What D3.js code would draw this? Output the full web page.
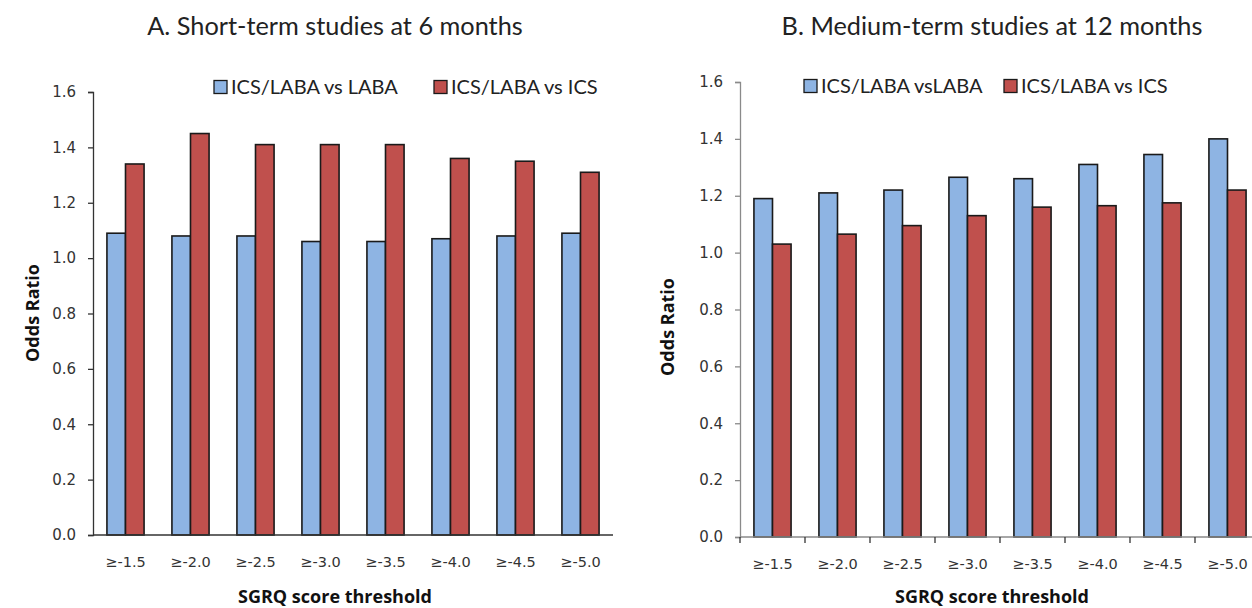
<!DOCTYPE html>
<html>
<head>
<meta charset="utf-8">
<script src="https://cdn.jsdelivr.net/npm/d3@7"></script>
<style>
  body { margin: 0; background: #fff; }
  svg { display: block; }
  .tick-label { font-family: "DejaVu Sans", Verdana, sans-serif; fill: #333; }
  .title { font-family: Lato, "Open Sans", sans-serif; font-size: 25.3px; fill: #222; }
  .legend-text { font-family: Lato, "Open Sans", sans-serif; font-size: 20px; fill: #222; }
  .axis-title { font-family: "Open Sans", Lato, sans-serif; font-size: 18px; font-weight: bold; fill: #111; }
</style>
</head>
<body>
<div id="chart"></div>
<script>
// 数据
var categories = ['≥-1.5', '≥-2.0', '≥-2.5', '≥-3.0', '≥-3.5', '≥-4.0', '≥-4.5', '≥-5.0'];
var yTicks = [0, 0.2, 0.4, 0.6, 0.8, 1.0, 1.2, 1.4, 1.6];

var shortVsLaba = [1.09, 1.08, 1.08, 1.06, 1.06, 1.07, 1.08, 1.09];
var shortVsIcs = [1.34, 1.45, 1.41, 1.41, 1.41, 1.36, 1.35, 1.31];

var mediumVsLaba = [1.19, 1.21, 1.22, 1.265, 1.26, 1.31, 1.345, 1.40];
var mediumVsIcs = [1.03, 1.065, 1.095, 1.13, 1.16, 1.165, 1.175, 1.22];

var colors = ['#8EB4E3', '#C0504D'];

var W = 1252, H = 608;
var svg = d3.select('#chart').append('svg')
    .attr('width', W)
    .attr('height', H);

function renderPanel (opts) {
    var g = svg.append('g');

    var x = d3.scaleBand()
        .domain(categories)
        .range([opts.left, opts.left + opts.band * categories.length])
        .paddingInner(0)
        .paddingOuter(0);

    var y = d3.scaleLinear()
        .domain([0, 1.6])
        .range([opts.bottom, opts.top]);

    var groupW = opts.band / 1.75;
    var x1 = d3.scaleBand()
        .domain([0, 1])
        .range([0, groupW]);

    // 柱子
    var series = [opts.s1, opts.s2];
    series.forEach(function (vals, si) {
        g.selectAll('rect.s' + si)
            .data(vals)
            .enter()
            .append('rect')
            .attr('class', 's' + si)
            .attr('x', function (d, i) {
                return x(categories[i]) + (opts.band - groupW) / 2 + x1(si);
            })
            .attr('y', function (d) { return y(d); })
            .attr('width', x1.bandwidth())
            .attr('height', function (d) { return opts.bottom - y(d); })
            .attr('fill', colors[si])
            .attr('stroke', '#1a1a1a')
            .attr('stroke-width', 1.6);
    });

    // y轴
    var yAxis = d3.axisLeft(y)
        .tickValues(yTicks)
        .tickSize(5)
        .tickFormat(d3.format('.1f'));
    var yg = g.append('g')
        .attr('transform', 'translate(' + opts.left + ',0)')
        .call(yAxis);
    yg.attr('font-size', null).attr('font-family', null);
    yg.select('.domain').attr('stroke', opts.axisColor).attr('stroke-width', 1.3);
    yg.selectAll('.tick line').attr('stroke', opts.axisColor).attr('stroke-width', 1.3);
    yg.selectAll('.tick text')
        .attr('class', 'tick-label')
        .style('font-size', '15px')
        .attr('x', -17);

    // x轴
    var xAxis = d3.axisBottom(x)
        .tickSize(0)
        .tickPadding(opts.xLabelPad);
    var xg = g.append('g')
        .attr('transform', 'translate(0,' + opts.bottom + ')')
        .call(xAxis);
    xg.attr('font-size', null).attr('font-family', null);
    xg.select('.domain')
        .attr('d', 'M' + opts.left + ',0H' + opts.xEnd)
        .attr('stroke', opts.axisColor)
        .attr('stroke-width', 1.3);
    xg.selectAll('.tick text')
        .attr('class', 'tick-label')
        .style('font-size', '14.5px');

    if (opts.xTicks) {
        xg.selectAll('line.sep')
            .data(categories)
            .enter()
            .append('line')
            .attr('class', 'sep')
            .attr('x1', function (d) { return x(d); })
            .attr('x2', function (d) { return x(d); })
            .attr('y1', 0)
            .attr('y2', 6)
            .attr('stroke', '#333')
            .attr('stroke-width', 1.3);
    }

    // 标题
    g.append('text')
        .attr('class', 'title')
        .attr('x', opts.titleX)
        .attr('y', 35)
        .attr('text-anchor', 'middle')
        .text(opts.title);

    g.append('text')
        .attr('class', 'axis-title')
        .attr('transform', 'translate(' + opts.yTitleX + ',' + opts.yTitleY + ') rotate(-90)')
        .attr('text-anchor', 'middle')
        .text('Odds Ratio');

    g.append('text')
        .attr('class', 'axis-title')
        .attr('x', opts.titleX)
        .attr('y', 603)
        .attr('text-anchor', 'middle')
        .text('SGRQ score threshold');

    // 图例
    opts.legend.forEach(function (item, i) {
        g.append('rect')
            .attr('x', item.x)
            .attr('y', opts.legendY - 6.5)
            .attr('width', 13)
            .attr('height', 13)
            .attr('fill', colors[i])
            .attr('stroke', '#1a1a1a')
            .attr('stroke-width', 1.3);
        g.append('text')
            .attr('class', 'legend-text')
            .attr('x', item.x + 17)
            .attr('y', opts.legendY + 7)
            .text(item.label);
    });
}

renderPanel({
    title: 'A. Short-term studies at 6 months',
    titleX: 335,
    left: 93,
    band: 65,
    xEnd: 613,
    top: 92,
    bottom: 535,
    s1: shortVsLaba,
    s2: shortVsIcs,
    axisColor: '#333',
    xTicks: false,
    xLabelPad: 22,
    yTitleX: 39,
    yTitleY: 313,
    legendY: 87,
    legend: [
        { x: 214, label: 'ICS/LABA vs LABA' },
        { x: 434, label: 'ICS/LABA vs ICS' }
    ]
});

renderPanel({
    title: 'B. Medium-term studies at 12 months',
    titleX: 992,
    left: 740,
    band: 65,
    xEnd: 1252,
    top: 82,
    bottom: 537,
    s1: mediumVsLaba,
    s2: mediumVsIcs,
    axisColor: '#8a8a8a',
    xTicks: true,
    xLabelPad: 22,
    yTitleX: 674,
    yTitleY: 327,
    legendY: 86,
    legend: [
        { x: 804, label: 'ICS/LABA vsLABA' },
        { x: 1004, label: 'ICS/LABA vs ICS' }
    ]
});
</script>
</body>
</html>
